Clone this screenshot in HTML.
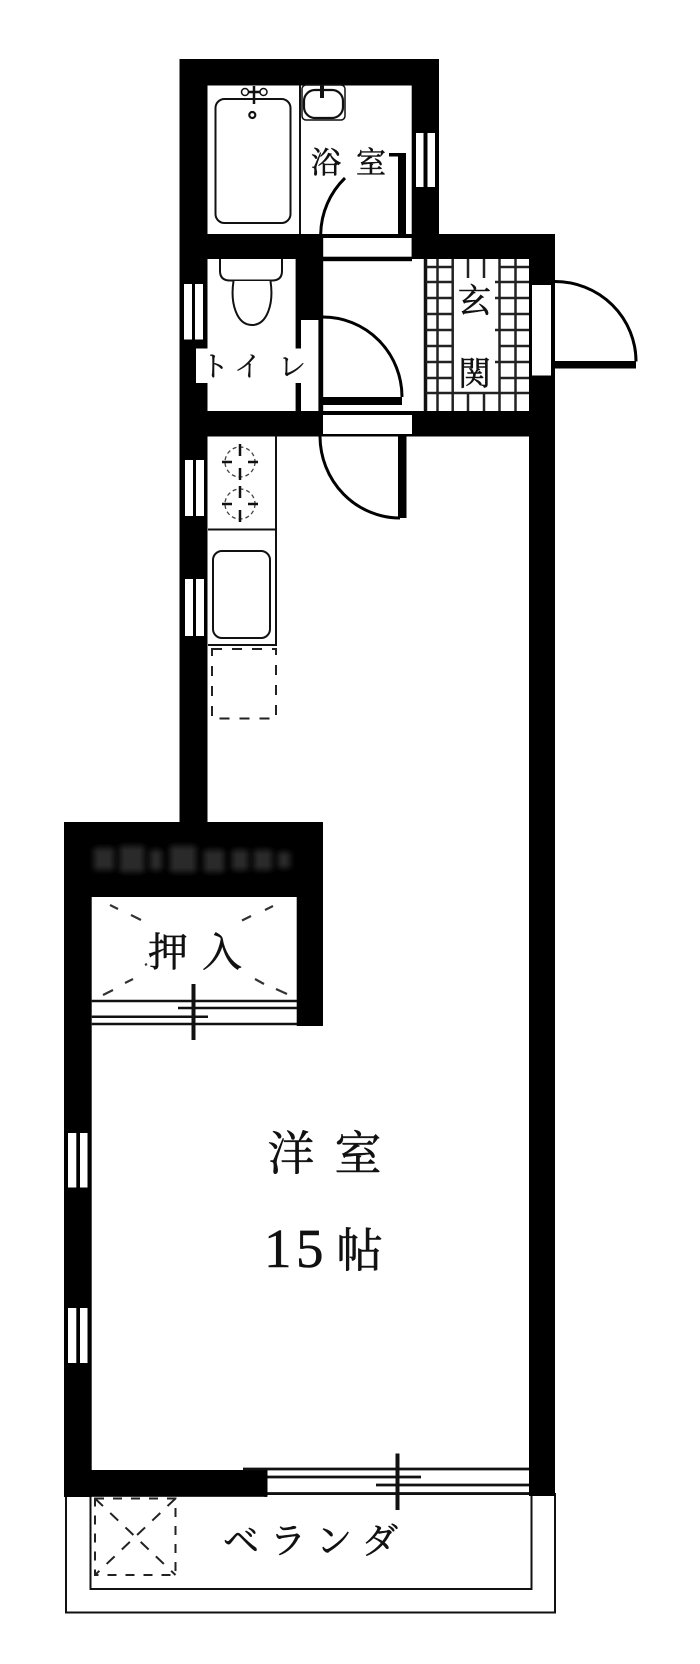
<!DOCTYPE html>
<html><head><meta charset="utf-8"><style>html,body{margin:0;padding:0;background:#fff}svg{display:block}text{font-family:"Liberation Serif","Noto Serif CJK SC",serif;fill:#111;stroke:#111;stroke-width:.55}</style></head>
<body>
<svg width="700" height="1664" viewBox="0 0 700 1664" xmlns="http://www.w3.org/2000/svg">
<defs><filter id="b" x="-10%" y="-30%" width="120%" height="160%"><feGaussianBlur stdDeviation="3"/></filter></defs>
<!-- veranda -->
<rect x="66" y="1494" width="489" height="118.500" fill="#fff" stroke="#111" stroke-width="2"/>
<path d="M90.500 1494V1589H531.500V1494" fill="none" stroke="#111" stroke-width="2"/>
<!-- walls -->
<g fill="#000">
<rect x="179.500" y="59" width="259.500" height="26.500"/>
<rect x="179.500" y="59" width="28" height="765"/>
<rect x="411.700" y="59" width="27.300" height="200"/>
<rect x="411.700" y="234" width="143.300" height="25"/>
<rect x="529" y="234" width="26" height="1262"/>
<rect x="180" y="234" width="143" height="25"/>
<rect x="295.600" y="234" width="27.400" height="86"/>
<rect x="180" y="411" width="375" height="25.500"/>
<rect x="64" y="822" width="259" height="75"/>
<rect x="64" y="822" width="27.700" height="675"/>
<rect x="296.700" y="822" width="26.300" height="204"/>
<rect x="64" y="1470" width="203" height="26.800"/>
<rect x="318.400" y="234" width="4.800" height="202"/>
<rect x="295.600" y="320" width="5.400" height="28.500"/>
<rect x="295.600" y="383" width="5.400" height="28"/>
<rect x="398" y="153" width="8" height="81"/>
<rect x="389" y="153" width="10" height="3.500"/>
</g>
<!-- noisy dark band -->
<g fill="#2a2a2a" filter="url(#b)">
<rect x="94" y="848" width="20" height="22"/><rect x="120" y="846" width="24" height="26"/>
<rect x="150" y="850" width="12" height="20"/><rect x="170" y="846" width="26" height="26"/>
<rect x="204" y="850" width="20" height="22"/><rect x="232" y="850" width="16" height="20"/>
<rect x="254" y="850" width="18" height="20"/><rect x="278" y="852" width="12" height="16"/>
</g>
<!-- openings -->
<g fill="#fff">
<rect x="196" y="348.500" width="11.500" height="34.500"/>
<rect x="184" y="284" width="8" height="55.500"/><rect x="195" y="284" width="8" height="55.500"/>
<rect x="185" y="460" width="8" height="56"/><rect x="196" y="460" width="8" height="56"/>
<rect x="185" y="579" width="8" height="57"/><rect x="196" y="579" width="8" height="57"/>
<rect x="416" y="133" width="7.500" height="54"/><rect x="427.500" y="133" width="7.500" height="54"/>
<rect x="323" y="415" width="89" height="19"/>
<rect x="532" y="285" width="19" height="90.500"/>
<rect x="68" y="1133" width="8.300" height="54.500"/><rect x="80" y="1133" width="7.500" height="54.500"/>
<rect x="68" y="1308" width="8.300" height="55"/><rect x="80" y="1308" width="7.500" height="55"/>
</g>
<!-- bath door opening -->
<rect x="323" y="234" width="89" height="4" fill="#000"/>
<rect x="323" y="256.700" width="89" height="4.500" fill="#000"/>
<!-- bath partition -->
<path d="M300 85V234" stroke="#111" stroke-width="2"/>
<!-- bathtub -->
<rect x="215.500" y="99" width="75" height="124" rx="9" fill="#fff" stroke="#111" stroke-width="2"/>
<circle cx="245" cy="92" r="3.500" fill="none" stroke="#111" stroke-width="1.500"/><circle cx="263.500" cy="92" r="3.500" fill="none" stroke="#111" stroke-width="1.500"/>
<path d="M248 92H260M254 86V104" stroke="#111" stroke-width="2.500"/>
<circle cx="252.300" cy="115" r="3" fill="none" stroke="#111" stroke-width="2.200"/>
<!-- basin -->
<rect x="302" y="85" width="43" height="35" rx="4" fill="#fff" stroke="#111" stroke-width="1.500"/>
<rect x="304" y="90" width="39" height="28" rx="11" fill="#fff" stroke="#111" stroke-width="2.200"/>
<path d="M322 85V98" stroke="#111" stroke-width="4"/>
<!-- toilet -->
<path d="M220 259V271Q220 280.500 230 280.500H272Q282 280.500 282 271V259" fill="#fff" stroke="#111" stroke-width="2"/>
<path d="M233.500 281C230 304 237 325 252 325C267 325 274 304 270.500 281" fill="#fff" stroke="#111" stroke-width="2"/>
<!-- tiles -->
<g stroke="#222" stroke-width="2.500">
<path d="M425.500 259V411" stroke-width="3.500" stroke="#111"/>
<path d="M437.500 259V411M452.700 259V411M499.500 259V411M515.500 259V411"/>
<path d="M468 259V278M484 259V278M468 393V411M484 393V411"/>
<path d="M426 267H453M426 282H453M426 298H453M426 314H453M426 330H453M426 346H453M426 362H453M426 378H453M426 393H529"/>
<path d="M499 267H529M495 282H529M495 298H529M499 314H529M495 330H529M499 346H529M495 362H529M499 378H529"/>
</g>
<!-- doors -->
<g fill="none" stroke="#000" stroke-width="3">
<path d="M555 281.500A81 80 0 0 1 636 361.500"/>
<path d="M323 317A79 80 0 0 1 402 397"/>
<path d="M320 436.500A80 82 0 0 0 400 518"/>
<path d="M345 178A80 80 0 0 0 320.700 234"/>
</g>
<g fill="#000">
<rect x="555" y="361" width="81" height="7.500"/>
<rect x="323" y="397" width="79" height="8"/>
<rect x="398" y="436" width="8.500" height="82"/>
</g>
<!-- stove -->
<path d="M276 436V645H208M208 529.500H276" fill="none" stroke="#111" stroke-width="2"/>
<g fill="none" stroke="#444" stroke-width="1.300" stroke-dasharray="4 3">
<circle cx="240" cy="462" r="15"/><circle cx="240" cy="504" r="15"/>
</g>
<g stroke="#111" stroke-width="2.500" fill="none">
<path d="M240 444V456M240 468V480M222 462H232M248 462H258M240 486V498M240 510V522M222 504H232M248 504H258"/>
</g>
<rect x="213" y="551" width="57" height="87" rx="9" fill="#fff" stroke="#111" stroke-width="2"/>
<rect x="212" y="649" width="64" height="69.500" fill="none" stroke="#222" stroke-width="2" stroke-dasharray="10 10"/>
<!-- closet -->
<g stroke="#333" stroke-width="2.200" fill="none">
<path d="M110 905L118 909M131 915L141 920M273 906L265 910M251 916L242 920.500"/>
<path d="M103 995L113 990M125 983L133 979M255 979L264 984M276 989L287 994"/>
<path d="M145 965L147 964"/>
</g>
<g stroke="#111" stroke-width="2.500" fill="none">
<path d="M91.700 1001H297M178 1008H297M91.700 1016.700H208M91.700 1024H297"/>
<path d="M193.500 984V1040" stroke-width="4"/>
</g>
<!-- south window -->
<rect x="267" y="1469" width="262" height="25" fill="#fff"/>
<g stroke="#111" fill="none" stroke-width="2.800">
<path d="M243 1469H529M267 1477H421M376 1485H529M267 1493.500H529"/>
<path d="M397.500 1453.500V1510" stroke-width="4"/>
</g>
<rect x="264" y="1470" width="3.500" height="26.800" fill="#000"/>
<!-- veranda unit -->
<rect x="95" y="1498.500" width="80.500" height="76.500" fill="none" stroke="#222" stroke-width="2" stroke-dasharray="9 9"/>
<g stroke="#222" stroke-width="2" stroke-dasharray="11 10" fill="none">
<path d="M95 1498.500L175.500 1575M175.500 1498.500L95 1575"/>
</g>
<!-- labels -->
<text font-size="30"><tspan x="311" y="173">浴</tspan><tspan x="356" y="173">室</tspan></text>
<text font-size="33"><tspan x="458" y="312">玄</tspan><tspan x="458" y="385">関</tspan></text>
<text font-size="28" style="stroke-width:.3"><tspan x="201" y="376">ト</tspan><tspan x="234" y="376">イ</tspan><tspan x="278" y="376">レ</tspan></text>
<text font-size="40"><tspan x="148" y="966">押</tspan><tspan x="202" y="966">入</tspan></text>
<text font-size="47"><tspan x="267.500" y="1170">洋</tspan><tspan x="334.500" y="1170">室</tspan></text>
<text font-size="55"><tspan x="264" y="1267">1</tspan><tspan x="296" y="1267">5</tspan></text>
<text font-size="47"><tspan x="336" y="1267">帖</tspan></text>
<text font-size="36"><tspan x="223" y="1553">ベ</tspan><tspan x="270" y="1553">ラ</tspan><tspan x="316" y="1553">ン</tspan><tspan x="362" y="1553">ダ</tspan></text>
</svg>
</body></html>
